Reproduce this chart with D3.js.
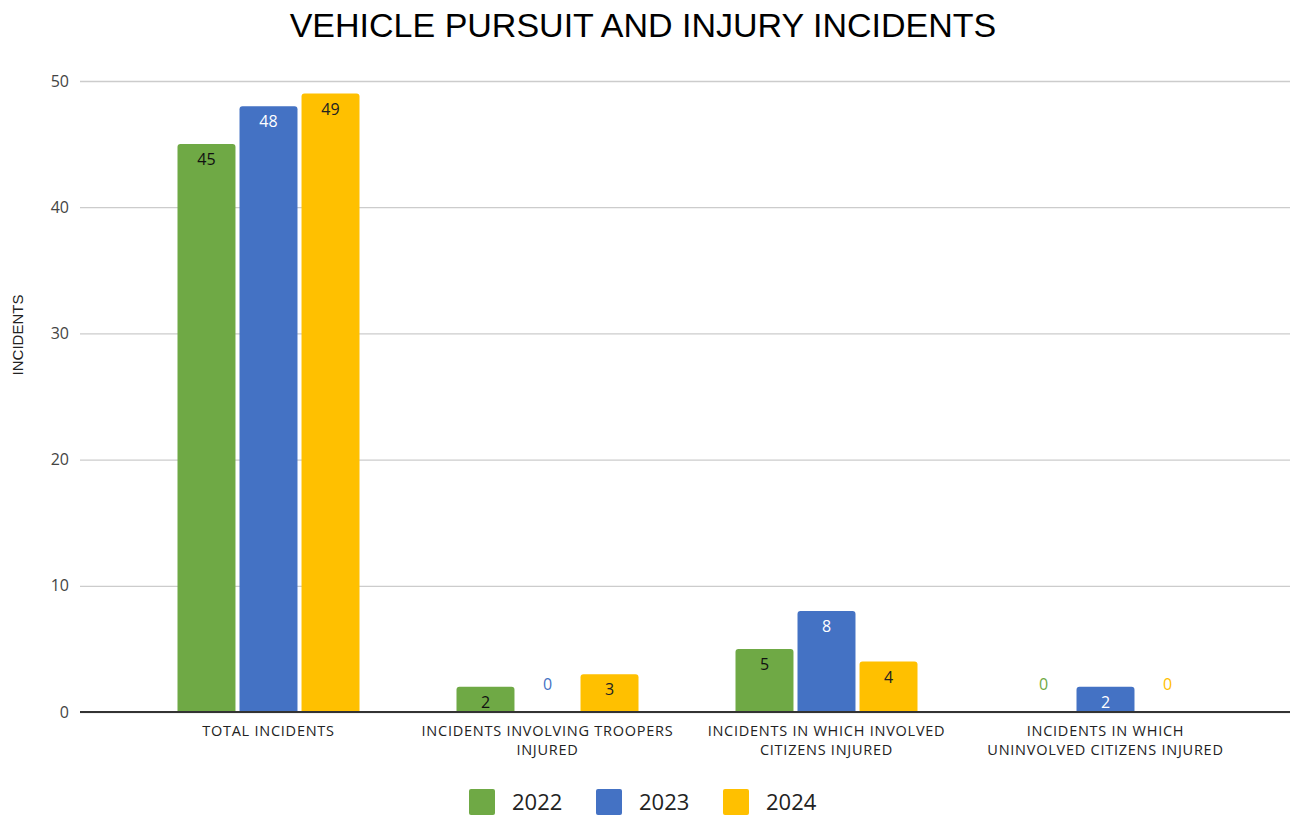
<!DOCTYPE html>
<html>
<head>
<meta charset="utf-8">
<script src="https://cdn.jsdelivr.net/npm/d3@7"></script>
<style>
  body { margin: 0; background: #fff; }
  svg { display: block; }
</style>
</head>
<body>
<div id="chart"></div>
<script>
// chart data
const categories = [
  ["TOTAL INCIDENTS"],
  ["INCIDENTS INVOLVING TROOPERS", "INJURED"],
  ["INCIDENTS IN WHICH INVOLVED", "CITIZENS INJURED"],
  ["INCIDENTS IN WHICH", "UNINVOLVED CITIZENS INJURED"]
];
const years = ["2022", "2023", "2024"];
const values2022 = [45, 2, 5, 0];
const values2023 = [48, 0, 8, 2];
const values2024 = [49, 3, 4, 0];
const yTicks = [0, 10, 20, 30, 40, 50];

const colors = ["#6fa945", "#4472c4", "#ffc000"];
const labelColors = ["#111", "#fff", "#222"];

const width = 1292, height = 816;
const svg = d3.select("#chart").append("svg")
  .attr("width", width).attr("height", height);

const series = [values2022, values2023, values2024];

const x = d3.scaleBand().domain(d3.range(categories.length)).range([129, 1245]);
const xInner = d3.scaleBand().domain(d3.range(years.length))
  .range([0, 182]).paddingInner(0.065);
const groupOffset = (x.bandwidth() - 182) / 2;
const y = d3.scaleLinear().domain([0, 50]).range([712, 81]);

// title
svg.append("text")
  .attr("x", 643).attr("y", 37)
  .attr("text-anchor", "middle")
  .attr("font-family", "Liberation Sans, Arial, sans-serif")
  .attr("font-size", 34)
  .attr("fill", "#000")
  .text("VEHICLE PURSUIT AND INJURY INCIDENTS");

// gridlines + y ticks
const yAxis = d3.axisLeft(y).tickValues(yTicks).tickSize(-(1290 - 80)).tickPadding(11);
const gy = svg.append("g").attr("transform", "translate(80,0)").call(yAxis);
gy.select(".domain").remove();
gy.selectAll(".tick line").attr("stroke", "#ccc").attr("stroke-width", 1.3);
gy.selectAll(".tick text")
  .attr("font-family", "Open Sans, sans-serif")
  .attr("font-size", 16).attr("fill", "#444");

// y title
svg.append("text")
  .attr("transform", "translate(23,335) rotate(-90)")
  .attr("text-anchor", "middle")
  .attr("font-family", "Liberation Sans Narrow, Liberation Sans, Arial, sans-serif")
  .attr("font-size", 15)
  .attr("fill", "#222")
  .text("INCIDENTS");

// bars
const barData = [];
series.forEach((vals, si) => {
  vals.forEach((v, ci) => barData.push({ si, ci, v }));
});

const rectPath = (x0, y0, w, h, r) => {
  if (h <= 0) return "";
  r = Math.min(r, h);
  return `M${x0},${y0 + h}V${y0 + r}Q${x0},${y0} ${x0 + r},${y0}H${x0 + w - r}Q${x0 + w},${y0} ${x0 + w},${y0 + r}V${y0 + h}Z`;
};

svg.append("g").selectAll("path")
  .data(barData)
  .join("path")
  .attr("d", d => {
    const bx = x(d.ci) + groupOffset + xInner(d.si);
    return rectPath(bx, y(d.v), xInner.bandwidth(), y(0) - y(d.v), 3);
  })
  .attr("fill", d => colors[d.si]);

// value labels
svg.append("g").selectAll("text")
  .data(barData)
  .join("text")
  .attr("x", d => x(d.ci) + groupOffset + xInner(d.si) + xInner.bandwidth() / 2)
  .attr("y", d => d.v === 0 ? y(0) - 22 : y(d.v) + 21)
  .attr("text-anchor", "middle")
  .attr("font-family", "Open Sans, sans-serif")
  .attr("font-size", 16)
  .attr("fill", d => d.v === 0 ? colors[d.si] : labelColors[d.si])
  .text(d => d.v);

// baseline
svg.append("line")
  .attr("x1", 80).attr("x2", 1290)
  .attr("y1", y(0)).attr("y2", y(0))
  .attr("stroke", "#333").attr("stroke-width", 2);

// x labels (one text per line)
const gx = svg.append("g");
categories.forEach((lines, ci) => {
  lines.forEach((l, li) => {
    gx.append("text")
      .attr("x", x(ci) + x.bandwidth() / 2)
      .attr("y", 736 + li * 19)
      .attr("text-anchor", "middle")
      .attr("font-family", "Open Sans, sans-serif")
      .attr("font-size", 14.5)
      .attr("letter-spacing", 0.75)
      .attr("fill", "#222")
      .text(l);
  });
});

// legend
const legendX = [469, 596, 723];
const lg = svg.append("g");
years.forEach((yr, i) => {
  lg.append("rect")
    .attr("x", legendX[i]).attr("y", 789)
    .attr("width", 26).attr("height", 26).attr("rx", 2)
    .attr("fill", colors[i]);
  lg.append("text")
    .attr("x", legendX[i] + 43).attr("y", 810)
    .attr("font-family", "Open Sans, sans-serif")
    .attr("font-size", 22)
    .attr("fill", "#222")
    .text(yr);
});
</script>
</body>
</html>
